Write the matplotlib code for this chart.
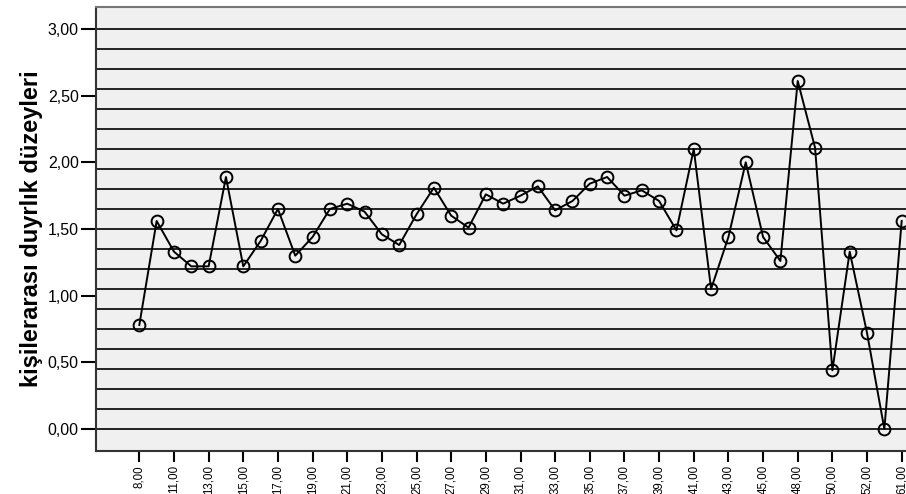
import matplotlib.pyplot as plt
import numpy as np

plt.rcParams['font.family'] = ['Liberation Sans', 'DejaVu Sans']

# age groups on the x axis and mean scores
yas = [8, 10, 11, 12, 13, 14, 15, 16, 17, 18, 19, 20, 21, 22, 23, 24, 25, 26,
       27, 28, 29, 30, 31, 32, 33, 34, 35, 36, 37, 38, 39, 40, 41, 42, 43, 44,
       45, 46, 48, 49, 50, 51, 52, 55, 61]
ortalama = [0.78, 1.56, 1.33, 1.22, 1.22, 1.89, 1.22, 1.41, 1.65, 1.30, 1.44,
            1.65, 1.69, 1.63, 1.46, 1.38, 1.61, 1.81, 1.60, 1.51, 1.76, 1.69,
            1.75, 1.82, 1.64, 1.71, 1.84, 1.89, 1.75, 1.79, 1.71, 1.49, 2.10,
            1.05, 1.44, 2.00, 1.44, 1.26, 2.61, 2.11, 0.44, 1.33, 0.72, 0.00,
            1.56]
y_ticks = [0.0, 0.5, 1.0, 1.5, 2.0, 2.5, 3.0]

x = np.arange(len(yas))

fig = plt.figure(figsize=(9.06, 4.94), dpi=100)
# plot area runs past the right edge of the image
ax = fig.add_axes([96/906, (494-451)/494, (945-96)/906, (451-7)/494])
ax.set_facecolor('#f0f0f0')

# black reference lines every 0.15
for g in np.arange(0, 3.0001, 0.15):
    ax.axhline(g, color='black', lw=1.2, zorder=1)

ax.plot(x, ortalama, color='black', lw=1.4, marker='o', ms=8.5,
        mfc='none', mec='black', mew=1.4, zorder=3, clip_on=False)

ax.set_xlim(-2.5, 46.5)
ax.set_ylim(-0.165, 3.165)

ax.set_yticks(y_ticks)
ax.set_yticklabels([f'{v:.2f}'.replace('.', ',') for v in y_ticks], fontsize=11.5)
ax.set_xticks(x[::2])
ax.set_xticklabels([f'{v:.2f}'.replace('.', ',') for v in yas[::2]],
                   rotation=90, fontsize=8.3)
ax.tick_params(axis='y', length=10.5, width=1.5, pad=2, color='black')
ax.tick_params(axis='x', length=8, width=1.5, pad=2, color='black')

for s in ['left', 'bottom']:
    ax.spines[s].set_color('#333333')
    ax.spines[s].set_linewidth(1.5)
ax.spines['top'].set_color('#777777')
ax.spines['top'].set_linewidth(1.5)
ax.spines['right'].set_visible(False)

ax.set_ylabel('kişilerarası duyrlık düzeyleri', fontsize=17,
              fontweight='bold', labelpad=3)

fig.savefig('out.png', dpi=100)
